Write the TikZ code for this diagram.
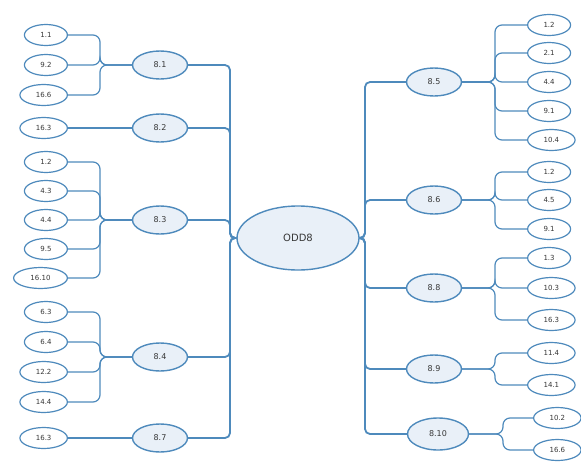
\documentclass[tikz,border=0pt]{standalone}
\usepackage{fontspec}
\setmainfont{DejaVu Sans}
\usetikzlibrary{shapes}
\definecolor{mapline}{RGB}{78,138,188}
\definecolor{mapfill}{RGB}{233,240,248}
\definecolor{maptext}{RGB}{55,55,55}
\tikzset{
  topic/.style={ellipse,draw=mapline,line width=1.4pt,fill=mapfill,text=maptext,
    font=\fontsize{8}{9}\selectfont,minimum width=55pt,minimum height=28pt,inner xsep=11pt},
  leaf/.style={ellipse,draw=mapline,line width=1.2pt,fill=white,text=maptext,
    font=\fontsize{7}{8}\selectfont,minimum width=43pt,minimum height=21pt,inner xsep=9pt,inner ysep=2pt},
  branch/.style={draw=mapline,line width=1.2pt,rounded corners=7pt},
  trunk/.style={draw=mapline,line width=1.8pt,rounded corners=5pt}
}
\begin{document}
\begin{tikzpicture}[x=1pt,y=-1pt]
\useasboundingbox (0,0) rectangle (581,461);
%
\node[topic,minimum width=122pt,minimum height=64pt,font=\fontsize{10}{11}\selectfont] (odd8) at (298,238) {ODD8};
% left topics
\node[topic] (t81) at (160,65) {8.1};
\node[topic] (t82) at (160,128) {8.2};
\node[topic] (t83) at (160,220) {8.3};
\node[topic] (t84) at (160,357) {8.4};
\node[topic] (t87) at (160,438) {8.7};
% right topics
\node[topic] (t85) at (434,82) {8.5};
\node[topic] (t86) at (434,200) {8.6};
\node[topic] (t88) at (434,288) {8.8};
\node[topic] (t89) at (434,369) {8.9};
\node[topic,minimum width=61pt,minimum height=32pt] (t810) at (438,434) {8.10};
%
\foreach \t in {t81,t82,t83,t84,t87} \draw[trunk] (\t.east) -| (230,238) -- (odd8.west);
\foreach \t in {t85,t86,t88,t89,t810} \draw[trunk] (\t.west) -| (365,238) -- (odd8.east);
% left leaves
\foreach \txt/\y [count=\i] in {1.1/35,9.2/65,16.6/95}
  {\node[leaf,anchor=east] (l81\i) at (68,\y) {\txt};
   \draw[branch] (l81\i.east) -| (100,65) -- (t81.west);}
\node[leaf,anchor=east] (l821) at (68,128) {16.3};
\draw[branch] (l821.east) -- (t82.west);
\foreach \txt/\y [count=\i] in {1.2/162,4.3/191,4.4/220,9.5/249,16.10/278}
  {\node[leaf,anchor=east] (l83\i) at (68,\y) {\txt};
   \draw[branch] (l83\i.east) -| (100,220) -- (t83.west);}
\foreach \txt/\y [count=\i] in {6.3/312,6.4/342,12.2/372,14.4/402}
  {\node[leaf,anchor=east] (l84\i) at (68,\y) {\txt};
   \draw[branch] (l84\i.east) -| (100,357) -- (t84.west);}
\node[leaf,anchor=east] (l871) at (68,438) {16.3};
\draw[branch] (l871.east) -- (t87.west);
% right leaves
\foreach \txt/\y [count=\i] in {1.2/25,2.1/53,4.4/82,9.1/111,10.4/140}
  {\node[leaf,anchor=west] (l85\i) at (527,\y) {\txt};
   \draw[branch] (t85.east) -- (495,82) |- (l85\i.west);}
\foreach \txt/\y [count=\i] in {1.2/172,4.5/200,9.1/229}
  {\node[leaf,anchor=west] (l86\i) at (527,\y) {\txt};
   \draw[branch] (t86.east) -- (495,200) |- (l86\i.west);}
\foreach \txt/\y [count=\i] in {1.3/258,10.3/288,16.3/320}
  {\node[leaf,anchor=west] (l88\i) at (527,\y) {\txt};
   \draw[branch] (t88.east) -- (495,288) |- (l88\i.west);}
\foreach \txt/\y [count=\i] in {11.4/353,14.1/385}
  {\node[leaf,anchor=west] (l89\i) at (527,\y) {\txt};
   \draw[branch] (t89.east) -- (495,369) |- (l89\i.west);}
\foreach \txt/\y [count=\i] in {10.2/418,16.6/450}
  {\node[leaf,anchor=west] (l810\i) at (533,\y) {\txt};
   \draw[branch] (t810.east) -- (503,434) |- (l810\i.west);}
\end{tikzpicture}
\end{document}
